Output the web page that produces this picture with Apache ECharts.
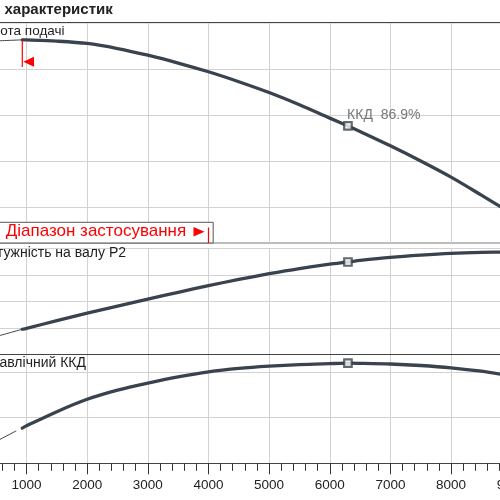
<!DOCTYPE html>
<html><head><meta charset="utf-8">
<script src="https://cdn.jsdelivr.net/npm/echarts@6/dist/echarts.min.js"></script>
<style>html,body{margin:0;padding:0;background:#fff}#c{width:500px;height:500px}</style>
</head><body><div id="c"></div>
<script>
// ---- data (Q in m3/h) ----
const flow       = [500, 930, 1000, 1500, 2000, 2500, 3000, 3500, 4000, 4500, 5000, 5500, 6000, 6300, 6500, 7000, 7500, 8000, 8500, 9000];
const head       = [56.05, 56.28, 56.27, 56.0, 55.5, 54.4, 52.95, 51.25, 49.35, 47.2, 44.85, 42.2, 39.3, 37.6, 36.4, 33.3, 30.0, 26.5, 22.6, 18.6];
const power      = [467, 494.5, 498, 526.8, 555, 582, 608.5, 634, 659, 682.5, 704, 723.5, 740.5, 748.3, 754.3, 766, 774.5, 781, 784.5, 786];
const efficiency = [69.8, 72.7, 73.2, 76.3, 79.0, 81.0, 82.55, 83.9, 85.0, 85.75, 86.25, 86.6, 86.8, 86.9, 86.88, 86.73, 86.4, 85.9, 85.15, 84.1];
const effThinFlow = [500, 830];
const effThin     = [69.8, 72.1];
const bepFlow = 6300;
const rangeStart = 930;
const rangeEnd = 4000;
const titleText = 'Графік характеристик';
const curveNames = ['Висота подачі', 'Потужність на валу P2', 'Гідравлічний ККД'];
const bepLabel = 'ККД';
const rangeLabel = 'Діапазон застосування';

// ---- helpers ----
const CURVE = '#39434d';
const GRIDC = '#d2d2d2';
const FONT = "'Liberation Sans', Arial, sans-serif";
function pairs(xs, ys) { return xs.map((x, i) => [x, ys[i]]); }
function part(xs, ys, lo, hi) { return pairs(xs, ys).filter(p => p[0] >= lo && p[0] <= hi); }
const bepIdx = flow.indexOf(bepFlow);

const chart = echarts.init(document.getElementById('c'), null, {renderer: 'canvas'});

const gridLeft = -34.1, gridWidth = 606.43;
const gBase = {left: gridLeft, width: gridWidth, outerBoundsMode: 'none', containLabel: false};
const grids = [
  Object.assign({}, gBase, {top: 22.7, height: 220.3, show: true, borderColor: '#7a7a7a', borderWidth: 1}),
  Object.assign({}, gBase, {top: 248.3, height: 106}),
  Object.assign({}, gBase, {top: 354.3, height: 109})
];
function xAx(i, labels) {
  return {
    type: 'value', gridIndex: i, min: 0, max: 10000, interval: 1000,
    axisLine: {show: true, lineStyle: {color: '#444', width: 1}},
    axisTick: {show: labels, length: 11, lineStyle: {color: '#333'}},
    minorTick: {show: labels, splitNumber: 5, length: 7.5, lineStyle: {color: '#333'}},
    axisLabel: {show: labels, fontSize: 13.5, color: '#222', margin: 15, fontFamily: FONT,
                formatter: v => String(v), showMinLabel: true, showMaxLabel: true},
    splitLine: {show: true, lineStyle: {color: GRIDC, width: 1}}
  };
}
function gridAx(i, opts) {
  return Object.assign({
    type: 'value', gridIndex: i,
    axisLine: {show: false}, axisTick: {show: false}, axisLabel: {show: false},
    splitLine: {show: true, showMinLine: false, showMaxLine: false, lineStyle: {color: GRIDC, width: 1}}
  }, opts);
}
const yAxes = [
  {type: 'value', gridIndex: 0, min: 12.21, max: 60, show: false},            // 0 head data
  gridAx(0, {inverse: true, min: 0, max: 47.79, interval: 10}),               // 1 head grid
  gridAx(1, {min: 400, max: 800, interval: 100,
             splitLine: {show: true, showMinLine: false, showMaxLine: true, lineStyle: {color: GRIDC, width: 1}}}), // 2 power
  {type: 'value', gridIndex: 2, min: 65, max: 88.85, show: false},            // 3 eff data
  gridAx(2, {min: 0, max: 23.85, interval: 10})                               // 4 eff grid
];

function thin(xi, yi, data) {
  return {type: 'line', xAxisIndex: xi, yAxisIndex: yi, data, smooth: 0.3, symbol: 'none',
          lineStyle: {color: CURVE, width: 1}, z: 5, silent: true};
}
function thick(xi, yi, data) {
  return {type: 'line', xAxisIndex: xi, yAxisIndex: yi, data, smooth: 0.3, symbol: 'none',
          lineStyle: {color: CURVE, width: 3.3, cap: 'round'}, z: 6, silent: true};
}
function bep(xi, yi, y, label) {
  const s = {type: 'scatter', xAxisIndex: xi, yAxisIndex: yi, data: [[bepFlow, y]], symbol: 'rect', symbolSize: 7.5,
          itemStyle: {color: '#fff', borderColor: CURVE, borderWidth: 2.2}, z: 10, silent: true};
  if (label) s.label = {show: true, position: [4, -13], formatter: label, color: '#555', fontSize: 14, fontFamily: FONT};
  return s;
}

chart.setOption({
  animation: false,
  grid: grids,
  xAxis: [xAx(0, false), xAx(1, false), xAx(2, true)],
  yAxis: yAxes,
  series: [
    thin(0, 0, part(flow, head, 0, rangeStart)),
    thick(0, 0, part(flow, head, rangeStart, 1e9)),
    bep(0, 0, head[bepIdx], bepLabel + '  ' + efficiency[bepIdx].toFixed(1) + '%'),
    thin(1, 2, part(flow, power, 0, rangeStart)),
    thick(1, 2, part(flow, power, rangeStart, 1e9)),
    bep(1, 2, power[bepIdx]),
    thin(2, 3, pairs(effThinFlow, effThin)),
    thick(2, 3, part(flow, efficiency, rangeStart, 1e9)),
    bep(2, 3, efficiency[bepIdx])
  ]
});

// ---- overlay: texts and application range markers ----
const xs = chart.convertToPixel({xAxisIndex: 0}, rangeStart);
const xe = chart.convertToPixel({xAxisIndex: 0}, rangeEnd);
const yStart = chart.convertToPixel({xAxisIndex: 0, yAxisIndex: 0}, [rangeStart, head[1]])[1];
const g1Bottom = 22.7 + 220.3;
const RED = '#ff0000';
const txt = (text, x, y, align, size, weight, fill) => ({
  type: 'text', z: 100, style: {text, x, y, align, verticalAlign: 'middle',
  font: (weight || 'normal') + ' ' + size + 'px ' + FONT, fill: fill || '#1e1e1e'}
});
chart.setOption({
  graphic: [
    txt(titleText, 112.7, 9.6, 'right', 15, 'bold', '#222'),
    txt(curveNames[0], 64.5, 31, 'right', 13.5),
    txt(curveNames[1], 126, 253.5, 'right', 14),
    txt(curveNames[2], 86, 363.3, 'right', 14),
    {type: 'rect', z: 90, shape: {x: -5, y: 222.3, width: xe + 4.7 + 5, height: g1Bottom - 222.3},
     style: {fill: '#fff', stroke: '#555', lineWidth: 1}},
    txt(rangeLabel, 5.7, 231.6, 'left', 17, 'normal', RED),
    {type: 'polygon', z: 100, shape: {points: [[xe - 15, 227], [xe - 4, 231.7], [xe - 15, 236.4]]}, style: {fill: RED}},
    {type: 'line', z: 100, shape: {x1: xe, y1: 227.5, x2: xe, y2: g1Bottom}, style: {stroke: RED, lineWidth: 1.2}},
    {type: 'line', z: 100, shape: {x1: xs, y1: yStart, x2: xs, y2: 67}, style: {stroke: RED, lineWidth: 1.2}},
    {type: 'polygon', z: 100, shape: {points: [[xs + 1, 61.7], [xs + 11.7, 56.7], [xs + 11.7, 66.7]]}, style: {fill: RED}}
  ]
});
</script>
</body></html>
